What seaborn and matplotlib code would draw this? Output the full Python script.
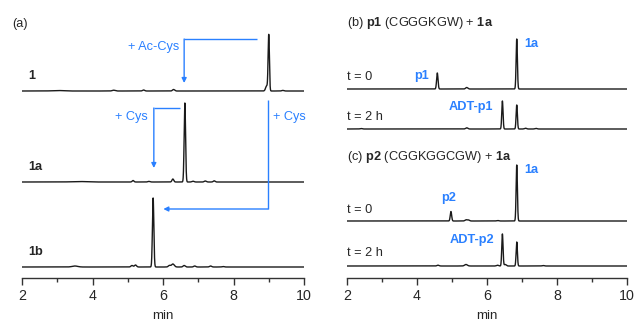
import matplotlib
matplotlib.use("Agg")
import matplotlib.pyplot as plt
import numpy as np
import pandas as pd
import seaborn as sns

# peaks: retention time (min), height, width (sigma, min)
t_1 = [3.0, 4.6, 5.45, 6.3, 8.94, 9.0, 9.4]
h_1 = [0.5, 0.8, 1.0, 1.5, 5.0, 56.0, 0.6]
w_1 = [0.15, 0.04, 0.03, 0.03, 0.03, 0.018, 0.03]

t_1a = [3.6, 5.15, 5.6, 6.28, 6.62, 6.85, 7.2, 7.45]
h_1a = [0.5, 1.5, 0.6, 3.0, 79.0, 0.8, 1.0, 1.2]
w_1a = [0.2, 0.025, 0.03, 0.025, 0.02, 0.03, 0.03, 0.025]

t_1b = [3.5, 5.12, 5.22, 5.72, 6.18, 6.28, 6.6, 6.9, 7.35, 7.7]
h_1b = [1.0, 1.5, 2.0, 69.0, 1.5, 3.0, 1.5, 1.0, 1.0, 0.5]
w_1b = [0.08, 0.03, 0.03, 0.02, 0.03, 0.04, 0.03, 0.03, 0.03, 0.03]

t_b0 = [4.58, 5.42, 6.85]
h_b0 = [16.0, 1.5, 50.0]
w_b0 = [0.02, 0.03, 0.018]

t_b2 = [2.4, 5.42, 6.44, 6.85, 7.1, 7.4]
h_b2 = [0.5, 1.2, 28.0, 24.0, 0.8, 0.6]
w_b2 = [0.03, 0.03, 0.018, 0.018, 0.03, 0.03]

t_c0 = [4.97, 5.4, 5.47, 6.3, 6.85]
h_c0 = [9.5, 1.2, 1.0, 0.5, 56.0]
w_c0 = [0.02, 0.03, 0.03, 0.03, 0.018]

t_c2 = [4.6, 5.4, 6.3, 6.44, 6.52, 6.85, 7.6]
h_c2 = [0.8, 1.5, 0.8, 32.0, 1.5, 24.0, 0.5]
w_c2 = [0.03, 0.04, 0.03, 0.018, 0.03, 0.018, 0.03]

x_grid = np.linspace(2, 10, 4001)


def trace(times, heights, widths):
    y = np.zeros_like(x_grid)
    for t, h, w in zip(times, heights, widths):
        y += h * np.exp(-0.5 * ((x_grid - t) / w) ** 2)
    return y


sns.set_theme(style="ticks")
plt.rcParams["font.family"] = ["Liberation Sans", "DejaVu Sans"]
plt.rcParams["mathtext.fontset"] = "custom"
plt.rcParams["mathtext.rm"] = "Liberation Sans"
plt.rcParams["mathtext.bf"] = "Liberation Sans:bold"

blue = "#2a80ff"
ink = "#1a1a1a"
fs = 9.2

fig = plt.figure(figsize=(6.37, 3.21), dpi=100)
W, H = 637, 321
ax_a = fig.add_axes([22 / W, (H - 278) / H, (304 - 22) / W, (278 - 20) / H])
ax_b = fig.add_axes([347 / W, (H - 278) / H, (627 - 347) / W, (278 - 20) / H])

for ax in (ax_a, ax_b):
    ax.set_xlim(2, 10)
    ax.set_ylim(0, 258)
    sns.despine(ax=ax, left=True)
    ax.set_yticks([])
    ax.set_xticks([2, 4, 6, 8, 10])
    ax.set_xticks([3, 5, 7, 9], minor=True)
    ax.tick_params(axis="x", which="major", length=5, width=1, color="#333333",
                   labelsize=10.3, pad=3, direction="out")
    ax.tick_params(axis="x", which="minor", length=3, width=1, color="#333333")
    ax.spines["bottom"].set_color("#333333")
    ax.spines["bottom"].set_linewidth(1)
    ax.set_xlabel("min", fontsize=9.5, labelpad=5)
    ax.patch.set_alpha(0)

# left panel
left = [(t_1, h_1, w_1, 187), (t_1a, h_1a, w_1a, 96), (t_1b, h_1b, w_1b, 11)]
for t, h, w, off in left:
    sns.lineplot(x=x_grid, y=trace(t, h, w) + off, ax=ax_a, color=ink, lw=1.0)

ax_a.text(1.72, 254, "(a)", fontsize=fs, va="center", ha="left", clip_on=False)
for lab, y in [("1", 202), ("1a", 111), ("1b", 26)]:
    ax_a.text(2.17, y, lab, fontsize=fs, fontweight="bold", va="center", ha="left")


def bent_arrow(ax, pts):
    xs, ys = zip(*pts)
    ax.plot(xs[:-1], ys[:-1], color=blue, lw=1.0, solid_capstyle="butt")
    ax.annotate("", xy=pts[-1], xytext=pts[-2],
                arrowprops=dict(arrowstyle="-|>", color=blue, lw=1.0,
                                mutation_scale=7, shrinkA=0, shrinkB=0))


bent_arrow(ax_a, [(8.67, 239), (6.6, 239), (6.6, 195)])
bent_arrow(ax_a, [(6.48, 170), (5.74, 170), (5.74, 110)])
bent_arrow(ax_a, [(8.98, 178), (8.98, 69), (6.01, 69)])
ax_a.text(6.45, 231, "+ Ac-Cys", color=blue, fontsize=fs, ha="right", va="center")
ax_a.text(5.57, 161, "+ Cys", color=blue, fontsize=fs, ha="right", va="center")
ax_a.text(9.12, 161, "+ Cys", color=blue, fontsize=fs, ha="left", va="center")

# right panel
right = [(t_b0, h_b0, w_b0, 189), (t_b2, h_b2, w_b2, 149),
         (t_c0, h_c0, w_c0, 57), (t_c2, h_c2, w_c2, 12)]
for t, h, w, off in right:
    sns.lineplot(x=x_grid, y=trace(t, h, w) + off, ax=ax_b, color=ink, lw=1.0)

ax_b.text(2.0, 255, r"(b) $\mathbf{p1}$ (CGGGKGW) + $\mathbf{1a}$", fontsize=fs,
          va="center", ha="left")
ax_b.text(2.0, 121, r"(c) $\mathbf{p2}$ (CGGKGGCGW) + $\mathbf{1a}$", fontsize=fs,
          va="center", ha="left")
for lab, y in [("t = 0", 201), ("t = 2 h", 161), ("t = 0", 68), ("t = 2 h", 25)]:
    ax_b.text(2.0, y, lab, fontsize=fs, va="center", ha="left")

blue_labels = [("1a", 7.06, 234, "left"), ("p1", 4.34, 202, "right"),
               ("ADT-p1", 6.17, 171, "right"), ("1a", 7.06, 108, "left"),
               ("p2", 4.91, 80, "center"), ("ADT-p2", 6.2, 38, "right")]
for lab, x, y, ha in blue_labels:
    ax_b.text(x, y, lab, color=blue, fontsize=fs, fontweight="bold", ha=ha, va="center")

fig.savefig("out.png", dpi=100)
